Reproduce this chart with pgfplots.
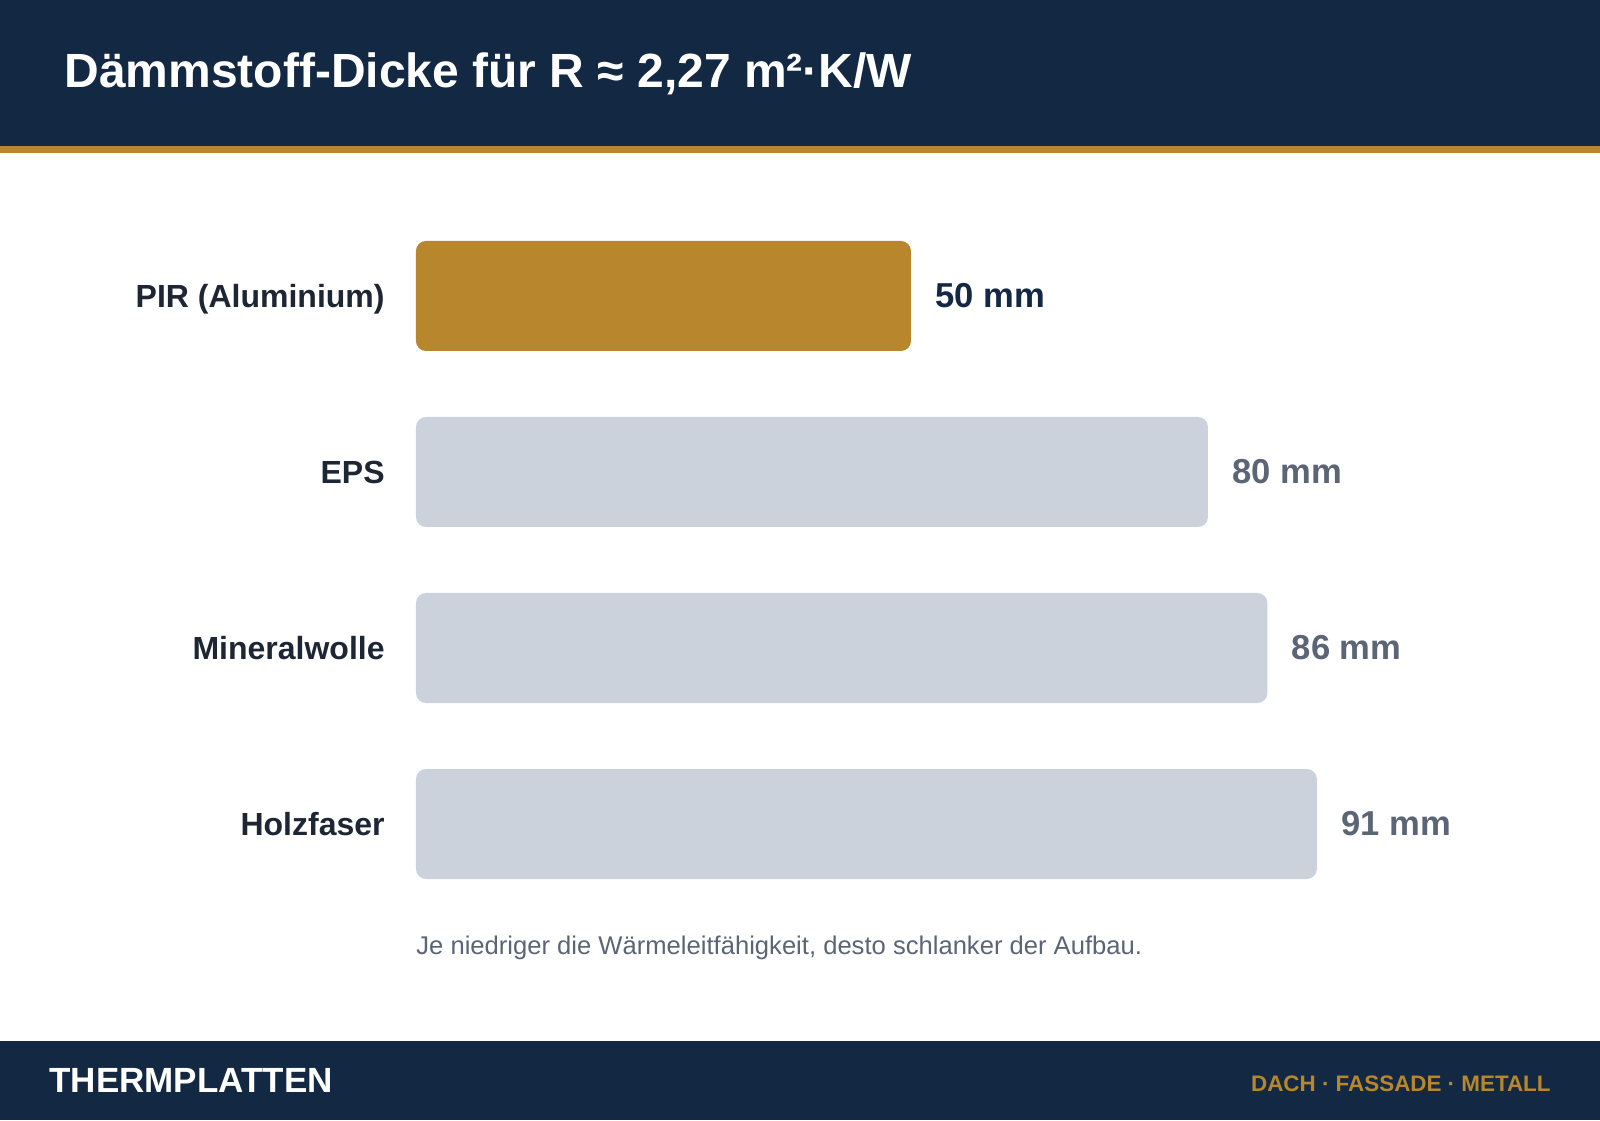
\documentclass[border=0pt]{standalone}
\usepackage{fontspec}
\setmainfont{Liberation Sans}
\usepackage{pgfplots}
\pgfplotsset{compat=1.18}

\definecolor{navy}{HTML}{132843}
\definecolor{gold}{HTML}{B8862C}
\definecolor{lightbar}{HTML}{CBD2DC}
\definecolor{labeldark}{HTML}{1E2533}
\definecolor{slate}{HTML}{5B6575}

\begin{document}
\begin{tikzpicture}
  % canvas 1600 x 1120 px, 1 px = 0.5 pt
  \fill[white] (0,0) rectangle (800pt,560pt);
  \fill[navy] (0,487pt) rectangle (800pt,560pt);
  \fill[gold] (0,483.5pt) rectangle (800pt,487pt);
  \fill[navy] (0,0) rectangle (800pt,39.5pt);

  \begin{axis}[
    at={(0,0)}, anchor=south west,
    scale only axis, width=800pt, height=560pt,
    xmin=-42.02, xmax=119.6,
    ymin=-4.6818, ymax=1.6818,
    axis line style={draw=none},
    major tick length=0pt,
    xtick=\empty,
    ytick={0,-1,-2,-3},
    yticklabels={PIR (Aluminium),EPS,Mineralwolle,Holzfaser},
    yticklabel style={anchor=east, inner sep=0pt, xshift=192.5pt,
      text depth=0pt,
      font=\fontsize{16}{19}\selectfont\bfseries, text=labeldark},
    xbar, bar width=55pt, bar shift=0pt,
    point meta=x,
    nodes near coords={\pgfmathprintnumber[assume math mode=true]{\pgfplotspointmeta}~mm},
    nodes near coords style={anchor=west, inner sep=0pt, xshift=12pt,
      font=\fontsize{17.3}{20}\selectfont\bfseries},
    /pgf/number format/assume math mode=true,
    clip=false,
  ]
    \addplot[fill=gold, draw=none, rounded corners=5pt,
      nodes near coords style={text=navy}]
      coordinates {(50,0)};
    \addplot[fill=lightbar, draw=none, rounded corners=5pt,
      nodes near coords style={text=slate}]
      coordinates {(80,-1) (86,-2) (91,-3)};
  \end{axis}

  \node[anchor=base west, inner sep=0pt, text=white,
    font=\fontsize{24}{28}\selectfont\bfseries]
    at (32pt,516pt) {Dämmstoff-Dicke für R ≈ 2,27 m²·K/W};
  \node[anchor=base west, inner sep=0pt, text=slate,
    font=\fontsize{12.8}{15}\selectfont]
    at (208pt,83pt) {Je niedriger die Wärmeleitfähigkeit, desto schlanker der Aufbau.};
  \node[anchor=base west, inner sep=0pt, text=white,
    font=\fontsize{17.5}{21}\selectfont\bfseries]
    at (24.5pt,14pt) {THERMPLATTEN};
  \node[anchor=base east, inner sep=0pt, text=gold,
    font=\fontsize{11.2}{13}\selectfont\bfseries]
    at (775.5pt,14.5pt) {DACH · FASSADE · METALL};

  \pgfresetboundingbox
  \path (0,0) rectangle (800pt,560pt);
\end{tikzpicture}
\end{document}
